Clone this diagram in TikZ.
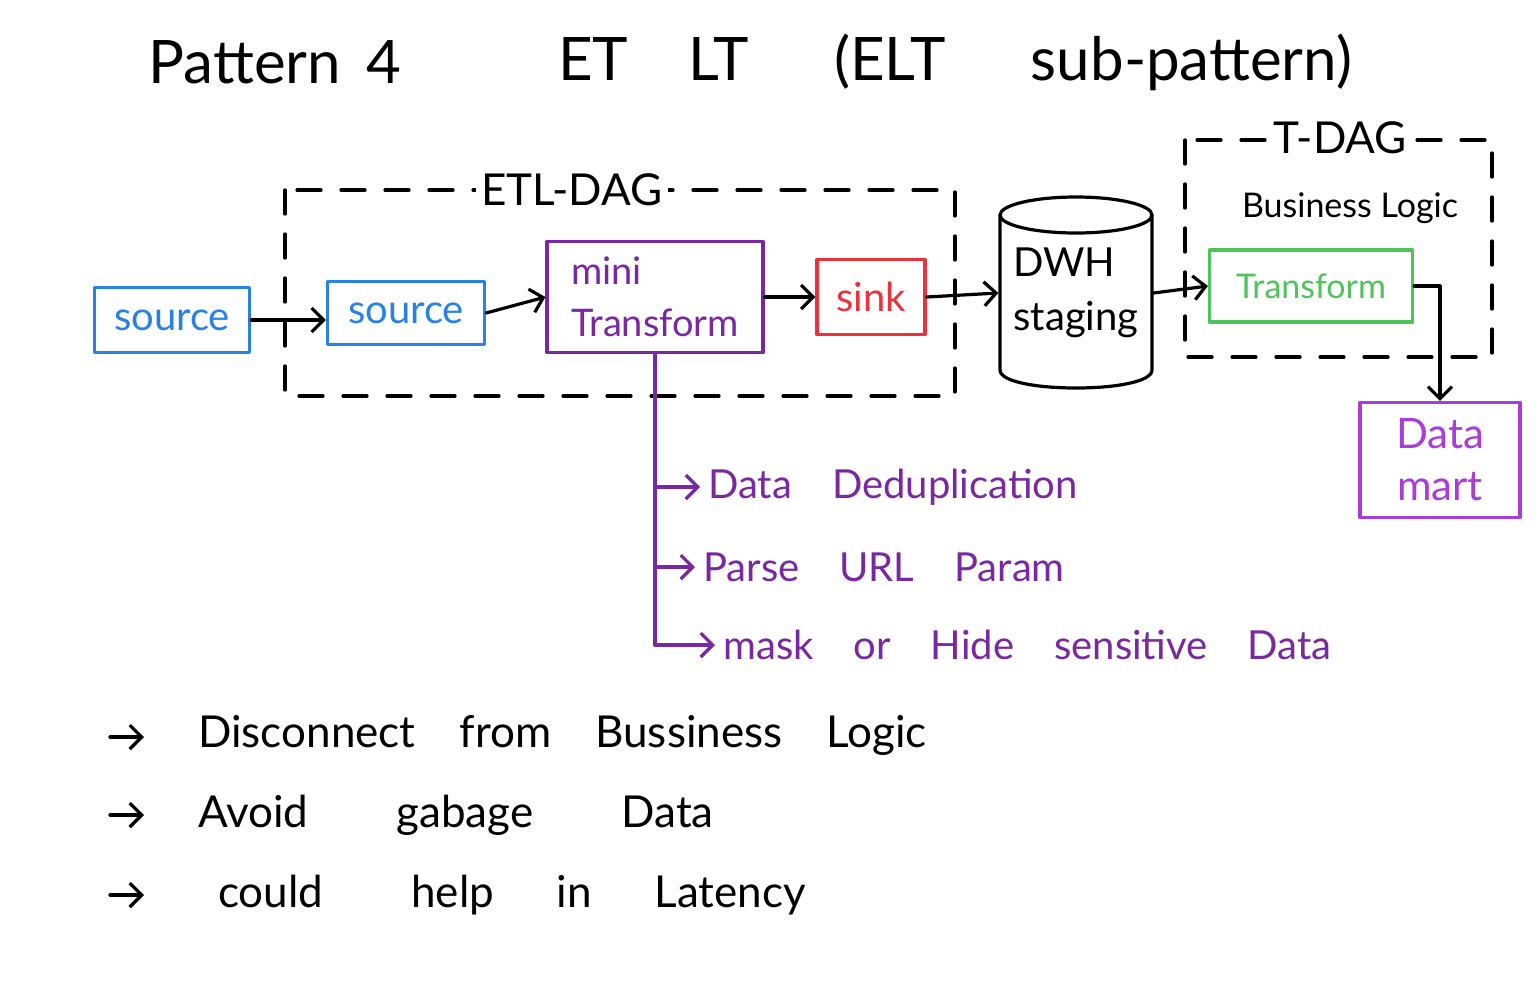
\documentclass[tikz,border=0pt]{standalone}
\usepackage{fontspec}
\setmainfont{Lato}
\usetikzlibrary{arrows.meta}
\definecolor{cblue}{RGB}{40,130,230}
\definecolor{cpurple}{RGB}{120,40,160}
\definecolor{cred}{RGB}{235,50,60}
\definecolor{cgreen}{RGB}{80,195,90}
\definecolor{cmag}{RGB}{170,60,220}
\begin{document}
\begin{tikzpicture}[x=0.5pt,y=-0.5pt, line width=1.6pt, line cap=round, line join=round,
  box/.style={draw, rectangle, inner sep=0pt, align=center},
  arr/.style={-{Straight Barb[length=6pt,width=12pt]}},
  dag/.style={draw, dash pattern=on 12pt off 10pt},
  lbl/.style={fill=white, inner sep=3pt},
  big/.style={font=\fontsize{30}{34}\selectfont},
  mid/.style={font=\fontsize{20}{24}\selectfont},
  sml/.style={font=\fontsize{17}{21}\selectfont},
  note/.style={font=\fontsize{22}{26}\selectfont, anchor=west},
  item/.style={font=\fontsize{20}{24}\selectfont, anchor=west, text=cpurple}]
\useasboundingbox[fill=white] (0,0) rectangle (1536,980);

% titles
\node[big] (t1) at (275,62) {Pattern\, 4};
\node[big] (t2) at (955,62) {ET\quad LT\quad\, (ELT\quad\, sub-pattern)};

% DAG frames
\draw[dag] (285,190) rectangle (955,396);
\node[lbl, font=\fontsize{22}{26}\selectfont] (etl) at (572,190) {ETL-DAG};
\draw[dag] (1185,140) rectangle (1492,357);
\node[lbl, font=\fontsize{22}{26}\selectfont] (tdag) at (1340,138) {T-DAG};
\node[sml] (bl) at (1350,208) {Business Logic};

% boxes
\node[box, draw=cblue, text=cblue, mid, minimum width=77.5pt, minimum height=32.5pt] (s1) at (172,320) {source};
\node[box, draw=cblue, text=cblue, mid, minimum width=78.5pt, minimum height=31.5pt] (s2) at (406,313) {source};
\node[box, draw=cpurple, text=cpurple, font=\fontsize{19}{26}\selectfont, align=left, minimum width=108pt, minimum height=55.5pt] (mt) at (655,297) {mini\\Transform};
\node[box, draw=cred, text=cred, mid, minimum width=54pt, minimum height=37.5pt] (sk) at (871,297) {sink};
\node[box, draw=cgreen, text=cgreen, sml, minimum width=101.5pt, minimum height=36pt] (tr) at (1311,286) {Transform};
\node[box, draw=cmag, text=cmag, font=\fontsize{21}{26}\selectfont, minimum width=80pt, minimum height=57.5pt] (dm) at (1440,460) {Data\\mart};

% DWH cylinder
\node[align=left, font=\fontsize{20}{27}\selectfont, minimum width=76pt, minimum height=80pt, inner sep=0pt] (dwh) at (1076,293) {DWH\\staging};
\draw (1000,215) -- (1000,370) .. controls (1000,394) and (1152,394) .. (1152,370) -- (1152,215);
\draw (1076,215) ellipse [x radius=76, y radius=18];

% main flow
\draw[arr] (s1.east) -- (s2.west |- s1.east);
\draw[arr] (s2.east) -- (mt.west);
\draw[arr] (mt.east) -- (sk.west);
\draw[arr] (sk.east) -- (dwh.west);
\draw[arr] (dwh.east) -- (tr.west);
\draw[arr] (tr.east) -| (dm.north);

% mini transform details
\node[item] (l1) at (700,487) {Data\quad Deduplication};
\node[item] (l2) at (695,567) {Parse\quad URL\quad Param};
\node[item] (l3) at (715,645) {mask\quad or\quad Hide\quad sensitive\quad Data};
\coordinate (b0) at (mt.south |- l3.west);
\draw[cpurple] (mt.south) -- (b0);
\draw[cpurple, arr] (mt.south |- l1.west) -- (l1.west);
\draw[cpurple, arr] (mt.south |- l2.west) -- (l2.west);
\draw[cpurple, arr] (b0) -- (l3.west);

% notes
\coordinate (a1) at (110,737);
\coordinate (a2) at (110,815);
\coordinate (a3) at (110,895);
\node[note] (n1) at (190,735) {Disconnect\quad from\quad Bussiness\quad Logic};
\node[note] (n2) at (190,815) {Avoid\qquad gabage\qquad Data};
\node[note] (n3) at (210,895) {could\qquad help\quad\, in\quad\, Latency};
\draw[arr] (a1) -- +(34,0);
\draw[arr] (a2) -- +(34,0);
\draw[arr] (a3) -- +(34,0);
\end{tikzpicture}
\end{document}
